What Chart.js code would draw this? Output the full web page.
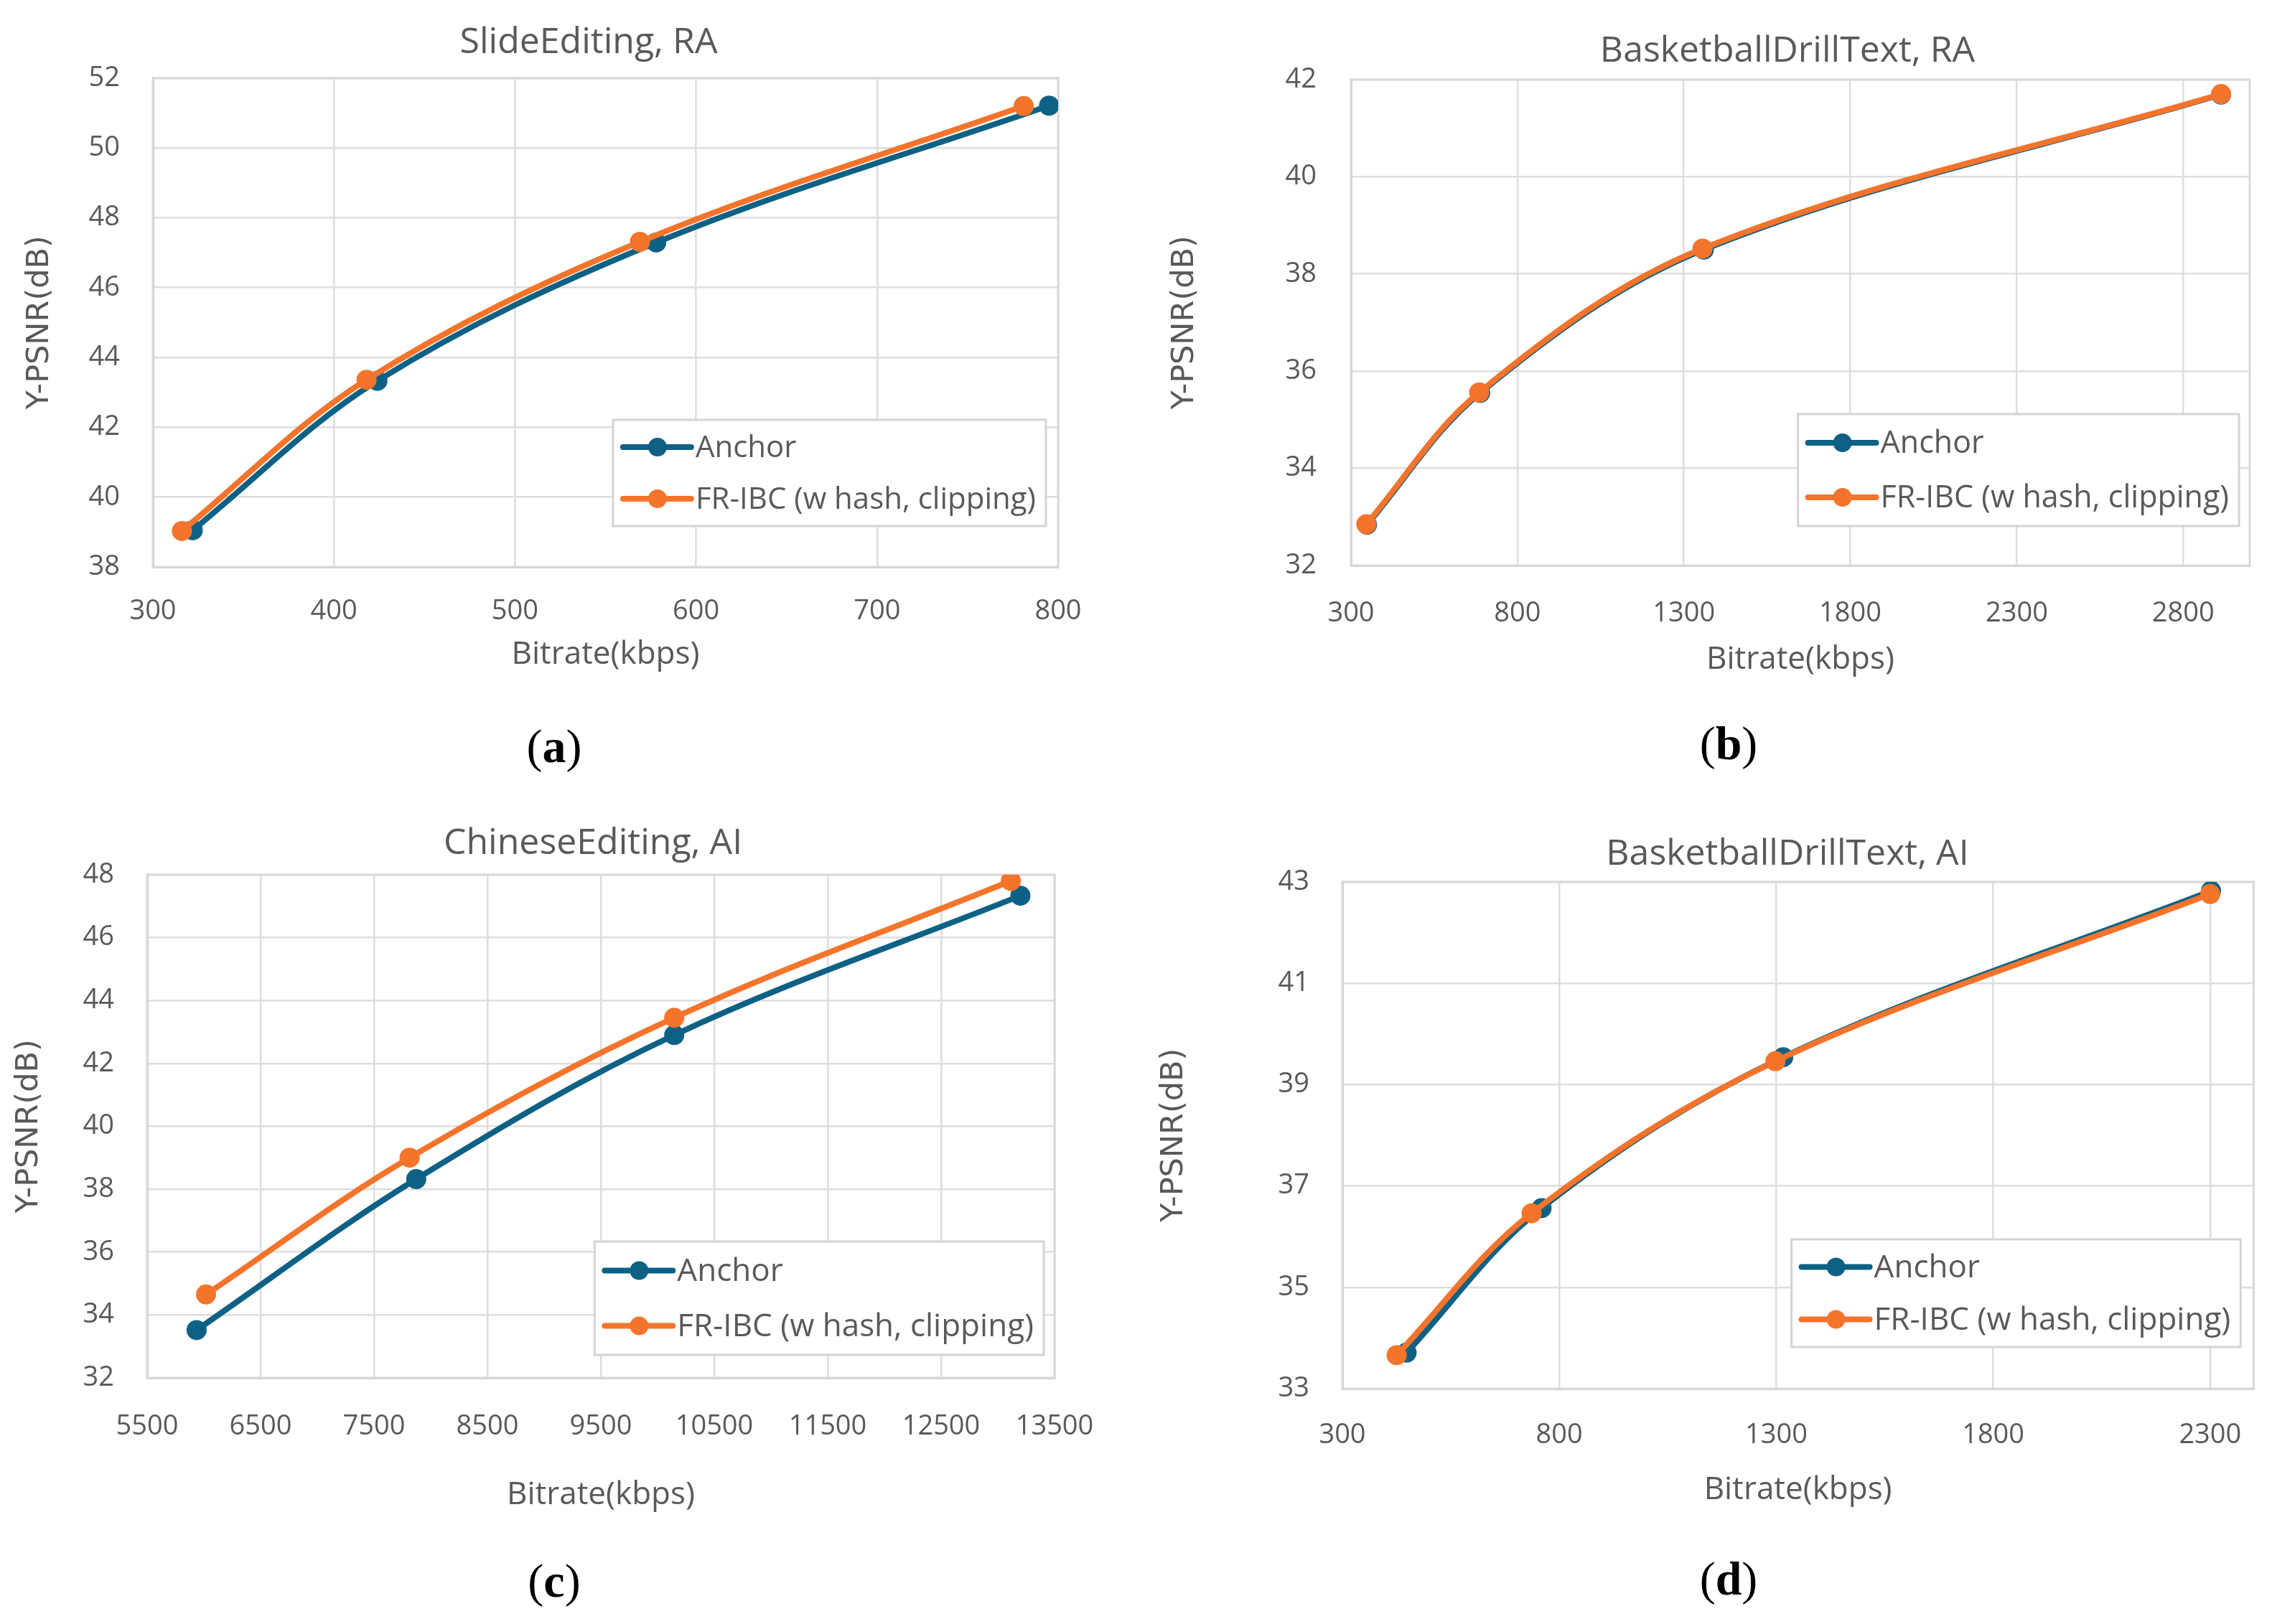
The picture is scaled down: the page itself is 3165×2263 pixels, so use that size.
<!DOCTYPE html>
<html>
<head>
<meta charset="utf-8">
<script src="https://cdn.jsdelivr.net/npm/chart.js@4.4.1/dist/chart.umd.min.js"></script>
<style>
  body { margin: 0; background: #fff; width: 3165px; height: 2263px; position: relative; overflow: hidden; font-family: "Open Sans", sans-serif; }
  canvas { position: absolute; }
  .title { position: absolute; transform: translate(-50%, -50%); font-size: 50px; color: #595959; white-space: nowrap; }
  .cap { position: absolute; transform: translate(-50%, -50%); font-family: "Liberation Serif", serif; font-size: 66px; color: #000; }
</style>
</head>
<body>
<div class="title" style="left:820px;top:55px">SlideEditing, RA</div>
<div class="title" style="left:2490px;top:67px">BasketballDrillText, RA</div>
<div class="title" style="left:826px;top:1171px">ChineseEditing, AI</div>
<div class="title" style="left:2490px;top:1186px">BasketballDrillText, AI</div>

<canvas id="chartA" width="1584" height="899" style="left:0px;top:40px"></canvas>
<canvas id="chartB" width="1555" height="906" style="left:1610px;top:40px"></canvas>
<canvas id="chartC" width="1579" height="960" style="left:0px;top:1150px"></canvas>
<canvas id="chartD" width="1565" height="943" style="left:1600px;top:1160px"></canvas>

<div class="cap" style="left:772px;top:1040px">(<b>a</b>)</div>
<div class="cap" style="left:2408px;top:1036px">(<b>b</b>)</div>
<div class="cap" style="left:772px;top:2203px">(<b>c</b>)</div>
<div class="cap" style="left:2408px;top:2200px">(<b>d</b>)</div>

<script>
// series names
const seriesNames = ['Anchor', 'FR-IBC (w hash, clipping)'];

// (a) SlideEditing, RA
const anchorRateA = [322, 424, 578, 795];
const anchorPsnrA = [39.05, 43.33, 47.29, 51.21];
const frRateA = [316, 418, 569, 781];
const frPsnrA = [39.03, 43.36, 47.31, 51.2];
const xTicksA = [300, 400, 500, 600, 700, 800];
const yTicksA = [38, 40, 42, 44, 46, 48, 50, 52];

// (b) BasketballDrillText, RA
const anchorRateB = [348, 688, 1360, 2914];
const anchorPsnrB = [32.84, 35.55, 38.5, 41.69];
const frRateB = [346, 685, 1356, 2914];
const frPsnrB = [32.85, 35.56, 38.52, 41.7];
const xTicksB = [300, 800, 1300, 1800, 2300, 2800];
const yTicksB = [32, 34, 36, 38, 40, 42];

// (c) ChineseEditing, AI
const anchorRateC = [5936, 7872, 10147, 13199];
const anchorPsnrC = [33.52, 38.32, 42.9, 47.33];
const frRateC = [6019, 7814, 10147, 13115];
const frPsnrC = [34.65, 39.0, 43.45, 47.8];
const xTicksC = [5500, 6500, 7500, 8500, 9500, 10500, 11500, 12500, 13500];
const yTicksC = [32, 34, 36, 38, 40, 42, 44, 46, 48];

// (d) BasketballDrillText, AI
const anchorRateD = [448, 759, 1316, 2302];
const anchorPsnrD = [33.71, 36.56, 39.54, 42.82];
const frRateD = [425, 736, 1298, 2300];
const frPsnrD = [33.66, 36.46, 39.46, 42.76];
const xTicksD = [300, 800, 1300, 1800, 2300];
const yTicksD = [33, 35, 37, 39, 41, 43];

const ANCHOR = '#0e6184';
const FRIBC = '#f5742b';
const TEXT = '#595959';

const pts = (xs, ys) => xs.map((x, i) => ({ x, y: ys[i] }));

// light frame round the plot area
const plotFrame = {
  id: 'plotFrame',
  beforeDatasetsDraw(chart) {
    const { ctx, chartArea: a } = chart;
    ctx.save();
    ctx.strokeStyle = '#d9d9d9';
    ctx.lineWidth = 3;
    ctx.strokeRect(a.left, a.top, a.right - a.left, a.bottom - a.top);
    ctx.restore();
  }
};

// boxed legend in the lower right of the plot area
const boxLegend = {
  id: 'boxLegend',
  afterDraw(chart, args, opts) {
    const { ctx, chartArea: a } = chart;
    const sets = chart.data.datasets;
    ctx.save();
    ctx.font = opts.size + 'px "Open Sans"';
    const textW = Math.max(...sets.map(d => ctx.measureText(d.label).width));
    const w = 115 + textW + 14;
    const h = opts.height;
    const x = a.right - opts.right - w;
    const y = a.bottom - opts.bottom - h;
    const gap = (h - 4) / 2;
    ctx.fillStyle = '#fff';
    ctx.fillRect(x, y, w, h);
    ctx.strokeStyle = '#d4d4d4';
    ctx.lineWidth = 3;
    ctx.strokeRect(x, y, w, h);
    sets.forEach((d, i) => {
      const cy = y + gap / 2 + 2 + i * gap;
      ctx.strokeStyle = d.borderColor;
      ctx.lineWidth = 8;
      ctx.lineCap = 'round';
      ctx.beginPath();
      ctx.moveTo(x + 14, cy);
      ctx.lineTo(x + 109, cy);
      ctx.stroke();
      ctx.fillStyle = d.borderColor;
      ctx.beginPath();
      ctx.arc(x + 62, cy, 13, 0, Math.PI * 2);
      ctx.fill();
      ctx.fillStyle = TEXT;
      ctx.textBaseline = 'middle';
      ctx.fillText(d.label, x + 115, cy + 2);
    });
    ctx.restore();
  }
};

function makePanel(id, p) {
  new Chart(document.getElementById(id), {
    type: 'line',
    data: {
      datasets: [
        {
          label: seriesNames[0],
          data: pts(p.anchorX, p.anchorY),
          borderColor: ANCHOR,
          backgroundColor: ANCHOR,
          order: 1
        },
        {
          label: seriesNames[1],
          data: pts(p.frX, p.frY),
          borderColor: FRIBC,
          backgroundColor: FRIBC,
          order: 0
        }
      ]
    },
    options: {
      responsive: false,
      animation: false,
      devicePixelRatio: 1,
      layout: { padding: { left: 0, top: p.padTop, right: p.padRight, bottom: 0 } },
      elements: {
        line: { borderWidth: 8, tension: 0.35, fill: false },
        point: { radius: 14, borderWidth: 0, hoverRadius: 14 }
      },
      scales: {
        x: {
          type: 'linear',
          min: p.xMin,
          max: p.xMax,
          afterBuildTicks: s => { s.ticks = p.xTicks.map(v => ({ value: v })); },
          afterFit: s => { s.height = p.xAxisH; },
          ticks: { color: TEXT, font: { family: 'Open Sans', size: 38 }, padding: p.xTickPad, callback: v => v, maxRotation: 0 },
          grid: { color: '#dedede', lineWidth: 2.5, drawTicks: false },
          border: { color: '#c9c9c9', width: 3 },
          title: { display: true, text: 'Bitrate(kbps)', color: TEXT, font: { family: 'Open Sans', size: 44 }, padding: 0 }
        },
        y: {
          type: 'linear',
          min: p.yTicks[0],
          max: p.yTicks[p.yTicks.length - 1],
          afterBuildTicks: s => { s.ticks = p.yTicks.map(v => ({ value: v })); },
          afterFit: s => { s.width = p.yAxisW; },
          ticks: { color: TEXT, font: { family: 'Open Sans', size: 38 }, padding: p.yTickPad, callback: v => v },
          grid: { color: '#dedede', lineWidth: 2.5, drawTicks: false },
          border: { color: '#c9c9c9', width: 3 },
          title: { display: true, text: 'Y-PSNR(dB)', color: TEXT, font: { family: 'DejaVu Sans', size: 43 }, padding: { top: p.yTitlePad, bottom: 0 } }
        }
      },
      plugins: {
        legend: { display: false },
        tooltip: { enabled: false },
        boxLegend: { right: p.legRight, bottom: p.legBottom, size: p.legSize, height: p.legH }
      }
    },
    plugins: [plotFrame, boxLegend]
  });
}

makePanel('chartA', {
  anchorX: anchorRateA, anchorY: anchorPsnrA, frX: frRateA, frY: frPsnrA,
  xTicks: xTicksA, yTicks: yTicksA, xMin: 300, xMax: 800,
  padTop: 62, padRight: 110, yAxisW: 213, xAxisH: 149,
  yTickPad: 46, xTickPad: 39, yTitlePad: 30,
  legRight: 17, legBottom: 57, legSize: 42, legH: 148
});

makePanel('chartB', {
  anchorX: anchorRateB, anchorY: anchorPsnrB, frX: frRateB, frY: frPsnrB,
  xTicks: xTicksB, yTicks: yTicksB, xMin: 300, xMax: 3000,
  padTop: 69, padRight: 31, yAxisW: 272, xAxisH: 158,
  yTickPad: 48, xTickPad: 44, yTitlePad: 15,
  legRight: 15, legBottom: 55, legSize: 43, legH: 156
});

makePanel('chartC', {
  anchorX: anchorRateC, anchorY: anchorPsnrC, frX: frRateC, frY: frPsnrC,
  xTicks: xTicksC, yTicks: yTicksC, xMin: 5500, xMax: 13500,
  padTop: 62, padRight: 110, yAxisW: 205, xAxisH: 190,
  yTickPad: 46, xTickPad: 45, yTitlePad: 15,
  legRight: 15, legBottom: 32, legSize: 44, legH: 158
});

makePanel('chartD', {
  anchorX: anchorRateD, anchorY: anchorPsnrD, frX: frRateD, frY: frPsnrD,
  xTicks: xTicksD, yTicks: yTicksD, xMin: 300, xMax: 2400,
  padTop: 67, padRight: 15, yAxisW: 270, xAxisH: 168,
  yTickPad: 46, xTickPad: 42, yTitlePad: 10,
  legRight: 18, legBottom: 58, legSize: 44, legH: 150
});
</script>
</body>
</html>
